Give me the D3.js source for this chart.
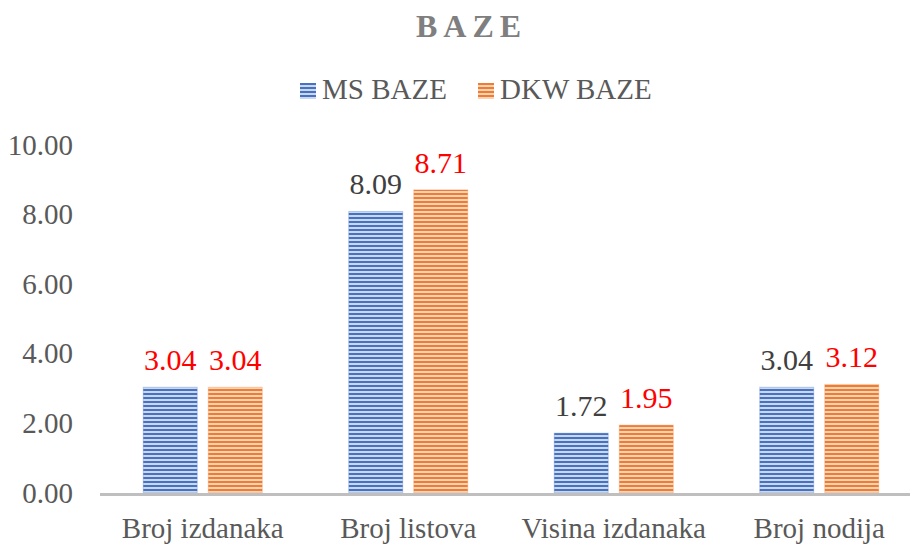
<!DOCTYPE html>
<html>
<head>
<meta charset="utf-8">
<script src="https://cdn.jsdelivr.net/npm/d3@7"></script>
<style>
  body { margin: 0; background: #fff; }
  text { font-family: "Liberation Serif", "Times New Roman", serif; }
</style>
</head>
<body>
<div id="chart"></div>
<script>
// chart data
const categories = ["Broj izdanaka", "Broj listova", "Visina izdanaka", "Broj nodija"];
const seriesNames = ["MS BAZE", "DKW BAZE"];
const msValues = [3.04, 8.09, 1.72, 3.04];
const dkwValues = [3.04, 8.71, 1.95, 3.12];
const yTicks = [0, 2, 4, 6, 8, 10];
// label colour per point (red where the source marks it)
const msLabelRed = [true, false, false, false];

const width = 910, height = 546;
// plot area runs a little past the right edge, as in the source
const margin = { top: 145, right: -12, bottom: 53, left: 100 };
const innerW = width - margin.left - margin.right;
const innerH = height - margin.top - margin.bottom;

const svg = d3.select("#chart").append("svg")
    .attr("width", width)
    .attr("height", height);

// stripe patterns for the bars
const defs = svg.append("defs");
function stripe(id, color, light) {
    const p = defs.append("pattern")
        .attr("id", id)
        .attr("patternUnits", "userSpaceOnUse")
        .attr("width", 8).attr("height", 4);
    p.append("rect").attr("width", 8).attr("height", 4).attr("fill", light);
    p.append("rect").attr("width", 8).attr("height", 2).attr("fill", color);
}
stripe("stripeBlue", "#4472c4", "#ccd7ec");
stripe("stripeOrange", "#ed7d31", "#f9d2b8");
const fills = ["url(#stripeBlue)", "url(#stripeOrange)"];
const solid = ["#4472c4", "#ed7d31"];

const g = svg.append("g")
    .attr("transform", `translate(${margin.left},${margin.top})`);

const groupW = 119;
const x0 = d3.scaleBand().domain(categories).range([0, innerW]);
const x1 = d3.scaleBand().domain(seriesNames).range([0, groupW]).paddingInner(0.17);
const y = d3.scaleLinear().domain([0, 10]).range([innerH, 0]);

// y axis labels
g.selectAll(".ytick")
    .data(yTicks)
    .enter().append("text")
    .attr("x", -27)
    .attr("y", d => y(d))
    .attr("dy", "0.33em")
    .attr("text-anchor", "end")
    .attr("fill", "#595959")
    .attr("font-size", 29)
    .text(d => d.toFixed(2));

const rows = categories.map((c, i) => ({
    cat: c,
    vals: [
        { s: seriesNames[0], v: msValues[i], red: msLabelRed[i], k: 0 },
        { s: seriesNames[1], v: dkwValues[i], red: true, k: 1 }
    ]
}));

const groups = g.selectAll(".grp")
    .data(rows)
    .enter().append("g")
    .attr("transform", d => `translate(${x0(d.cat) + (x0.bandwidth() - groupW) / 2},0)`);

groups.selectAll("rect")
    .data(d => d.vals)
    .enter().append("rect")
    .attr("x", d => x1(d.s))
    .attr("width", x1.bandwidth())
    .attr("y", d => y(d.v))
    .attr("height", d => y(0) - y(d.v))
    .attr("fill", d => fills[d.k])
    .attr("stroke", d => solid[d.k])
    .attr("stroke-opacity", 0.3)
    .attr("stroke-width", 1);

groups.selectAll(".lbl")
    .data(d => d.vals)
    .enter().append("text")
    .attr("x", d => x1(d.s) + x1.bandwidth() / 2)
    .attr("y", d => y(d.v) - 17)
    .attr("text-anchor", "middle")
    .attr("font-size", 30)
    .attr("fill", d => d.red ? "#ff0000" : "#404040")
    .text(d => d.v.toFixed(2));

// baseline
g.append("line")
    .attr("x1", 0).attr("x2", innerW)
    .attr("y1", y(0) + 1.5).attr("y2", y(0) + 1.5)
    .attr("stroke", "#bfbfbf")
    .attr("stroke-width", 3);

// category labels
g.selectAll(".xlab")
    .data(categories)
    .enter().append("text")
    .attr("x", d => x0(d) + x0.bandwidth() / 2)
    .attr("y", innerH + 45)
    .attr("text-anchor", "middle")
    .attr("fill", "#595959")
    .attr("font-size", 29)
    .text(d => d);

// title
svg.append("text")
    .attr("x", 416)
    .attr("y", 37)
    .attr("font-size", 32)
    .attr("font-weight", "bold")
    .attr("letter-spacing", 6)
    .attr("fill", "#7f7f7f")
    .text("BAZE");

// legend
const legX = [300, 478];
const legend = svg.selectAll(".leg")
    .data(seriesNames)
    .enter().append("g")
    .attr("transform", (d, i) => `translate(${legX[i]},83)`);
legend.append("rect")
    .attr("width", 16).attr("height", 16)
    .attr("fill", (d, i) => fills[i]);
legend.append("text")
    .attr("x", 22).attr("y", 16)
    .attr("font-size", 29)
    .attr("fill", "#595959")
    .text(d => d);
</script>
</body>
</html>
